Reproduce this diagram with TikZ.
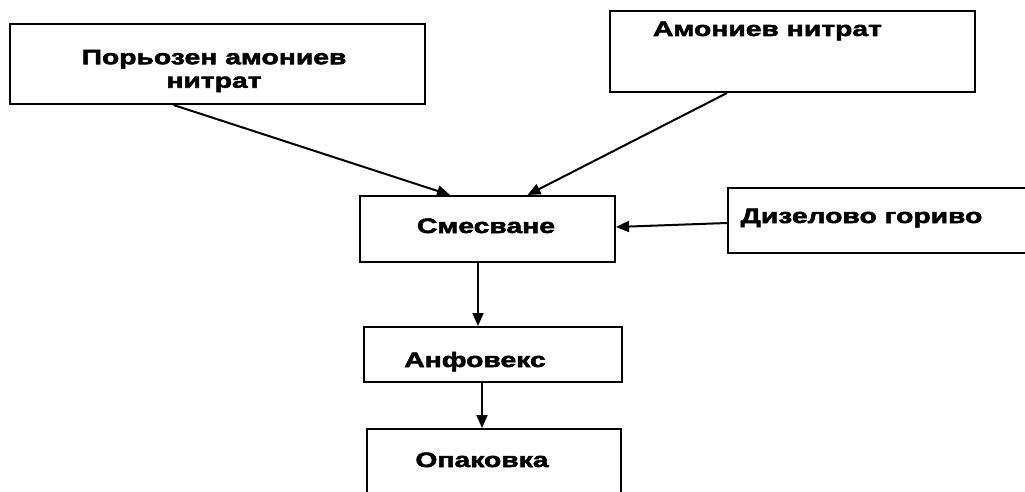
\documentclass[tikz,border=0pt]{standalone}
\usepackage{fontspec}
\usetikzlibrary{arrows.meta}
\newfontfamily\lblfont[FakeStretch=1.36, BoldFeatures={FakeBold=2.5}]{Liberation Sans}
\tikzset{
  box/.style={draw, line width=2pt, rectangle, inner sep=0pt},
  lbl/.style={inner sep=0pt, font=\lblfont\bfseries\fontsize{20.8}{23.5}\selectfont},
  arr/.style={line width=2pt, -{Triangle[length=13pt,width=11pt]}}
}
\begin{document}
\begin{tikzpicture}[x=1pt,y=-1pt]
\useasboundingbox (0,0) rectangle (1025,492);
\clip (0,0) rectangle (1025,492);
% boxes
\node[box, minimum width=415pt, minimum height=80pt] (p1) at (217.5,64) {};
\node[box, minimum width=365pt, minimum height=81pt] (p2) at (792.5,51.5) {};
\node[box, minimum width=255pt, minimum height=66pt] (mix) at (487.5,229) {};
\node[box, minimum width=317pt, minimum height=65pt] (diesel) at (886.5,220) {};
\node[box, minimum width=258pt, minimum height=55pt] (anf) at (493,354.5) {};
\node[box, minimum width=254pt, minimum height=101pt] (pack) at (494,479.5) {};
% labels
\node[lbl, align=center] (p1t) at (214,71) {Порьозен амониев\\нитрат};
\node[lbl, anchor=base] (p2t) at (767.5,36) {Амониев нитрат};
\node[lbl, anchor=base] (mixt) at (486,233) {Смесване};
\node[lbl, anchor=base] (dieselt) at (861.5,223) {Дизелово гориво};
\node[lbl, anchor=base] (anft) at (475,367) {Анфовекс};
\node[lbl, anchor=base] (packt) at (482,467) {Опаковка};
% connectors
\draw[arr] ([xshift=-44pt]p1.south) -- ([xshift=-37.5pt]mix.north);
\draw[arr] ([xshift=-65.5pt]p2.south) -- ([xshift=40pt]mix.north);
\draw[arr] ([yshift=-3pt]diesel.west) -- ([yshift=2pt]mix.east);
\draw[arr] ([xshift=-9.5pt]mix.south) -- ([xshift=-9.5pt]mix.south |- anf.north);
\draw[arr] ([xshift=-11pt]anf.south) -- ([xshift=-11pt]anf.south |- pack.north);
\end{tikzpicture}
\end{document}
